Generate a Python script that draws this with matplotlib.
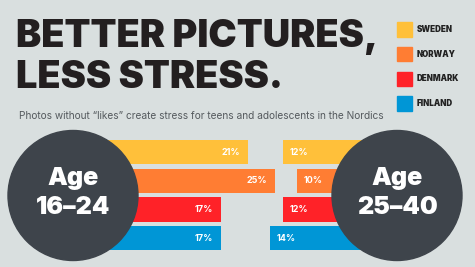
import numpy as np
import matplotlib.pyplot as plt
from matplotlib.patches import Circle, Rectangle

plt.rcParams['font.family'] = ['Inter', 'DejaVu Sans']

countries = ['SWEDEN', 'NORWAY', 'DENMARK', 'FINLAND']
colors = ['#ffc03a', '#ff7d33', '#ff2228', '#0096d6']
young = [21, 25, 17, 17]   # age 16-24
older = [12, 10, 12, 14]   # age 25-40
groups = ['Age\n16\u201324', 'Age\n25\u201340']
title = ['BETTER PICTURES,', 'LESS STRESS.']
subtitle = 'Photos without \u201clikes\u201d create stress for teens and adolescents in the Nordics'

bg = '#d9dfdf'
dark = '#3e444b'
W, H = 475, 267

fig = plt.figure(figsize=(4.75, 2.67), dpi=100, facecolor=bg)

def px_axes(x0, y0, w, h):
    # axes placed by pixel box (top-left origin)
    return fig.add_axes([x0 / W, 1 - (y0 + h) / H, w / W, h / H])

ypos = np.arange(len(countries))
pp = 6.75            # pixels per percent
span = 30
row = 28.7
top = 152.2 - row / 2

# left group grows to the right
axl = px_axes(106.25, top, span * pp, row * 4)
axl.barh(ypos, young, height=0.85, color=colors)
axl.set_xlim(0, span)
axl.set_ylim(3.5, -0.5)
for y, v in zip(ypos, young):
    axl.text(v - 1.2, y, f'{v}%', ha='right', va='center', color='white',
             fontsize=6.5, fontweight='bold')

# right group grows to the left
axr = px_axes(364 - span * pp, top, span * pp, row * 4)
axr.barh(ypos, older, height=0.85, color=colors)
axr.set_xlim(span, 0)
axr.set_ylim(3.5, -0.5)
for y, v in zip(ypos, older):
    axr.text(v - 1.0, y, f'{v}%', ha='left', va='center', color='white',
             fontsize=6.5, fontweight='bold')

for a in (axl, axr):
    a.set_axis_off()
    a.patch.set_visible(False)

# overlay in pixel coordinates for circles, titles, legend
ov = fig.add_axes([0, 0, 1, 1])
ov.set_xlim(0, W)
ov.set_ylim(H, 0)
ov.set_axis_off()
ov.patch.set_visible(False)

for cx, lab in zip([73, 397], groups):
    ov.add_patch(Circle((cx, 195.5), 65, color=dark, zorder=5))
    ov.text(cx, 193, lab, ha='center', va='center', color='white',
            fontsize=18, fontweight='black', linespacing=1.28, zorder=6)

ov.text(16, 47, title[0], ha='left', va='baseline', color='#231f20',
        fontsize=27.3, fontweight='black')
ov.text(16, 88, title[1], ha='left', va='baseline', color='#231f20',
        fontsize=27.3, fontweight='black')
ov.text(19, 116, subtitle, ha='left', va='center', color='#555a5e', fontsize=7.3)

for i, (c, col) in enumerate(zip(countries, colors)):
    y0 = 22.3 + i * 24.6
    ov.add_patch(Rectangle((397, y0), 14.7, 14.5, color=col))
    ov.text(417, y0 + 7.3, c, ha='left', va='center', color='#222222',
            fontsize=5.8, fontweight='black')

fig.savefig('out.png', dpi=100, facecolor=bg)
